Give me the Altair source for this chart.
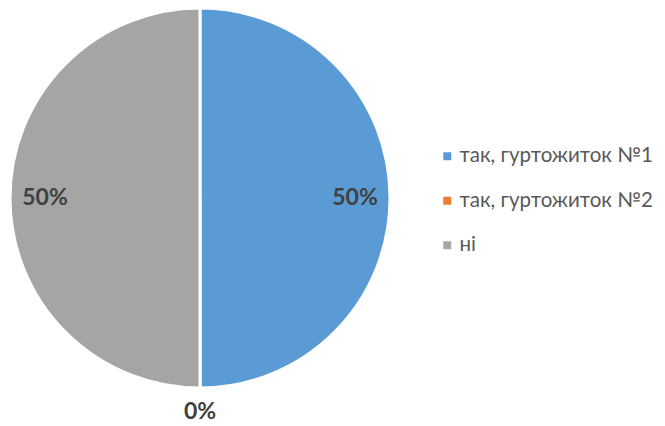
import altair as alt
import pandas as pd

categories = ["так, гуртожиток №1", "так, гуртожиток №2", "ні"]
values = [50, 0, 50]
labels = ["50%", "0%", "50%"]
colors = ["#5B9BD5", "#ED7D31", "#A5A5A5"]

df = pd.DataFrame({"cat": categories, "v": values, "lab": labels, "idx": list(range(len(categories)))})

pie = alt.Chart(df).mark_arc(stroke="white", strokeWidth=3).encode(
    theta=alt.Theta("v:Q", stack=True, scale=alt.Scale(domain=[0, 100])),
    order=alt.Order("idx:Q"),
    color=alt.Color(
        "cat:N",
        scale=alt.Scale(domain=categories, range=colors),
        sort=categories,
        legend=alt.Legend(
            title=None,
            orient="none",
            legendX=429,
            legendY=138,
            symbolType="square",
            symbolSize=64,
            symbolStrokeWidth=0,
            labelFontSize=20.5,
            labelFont="Lato",
            labelColor="#595959",
            labelLimit=0,
            rowPadding=23.5,
            labelOffset=2,
        ),
    ),
    x=alt.value(192),
    y=alt.value(190),
    radius=alt.value(190),
)

text = alt.Chart(df).transform_window(
    cum="sum(v)", sort=[alt.SortField("idx")], frame=[None, 0]
).transform_calculate(
    mid="datum.cum - datum.v / 2",
    r="datum.v > 0 ? 155 : 214",
).mark_text(font="Lato", fontWeight="bold", fontSize=23, color="#404040").encode(
    theta=alt.Theta("mid:Q", stack=None, scale=alt.Scale(domain=[0, 100])),
    text="lab:N",
    x=alt.value(192),
    y=alt.value(190),
    radius=alt.Radius("r:Q", scale=None),
)

chart = alt.layer(pie, text).resolve_scale(theta="independent").properties(
    width=649, height=418, autosize=alt.AutoSizeParams(type="none"), padding=0
).configure_view(stroke=None)

chart.save("out.html", embed_options={"renderer": "svg", "actions": False})
